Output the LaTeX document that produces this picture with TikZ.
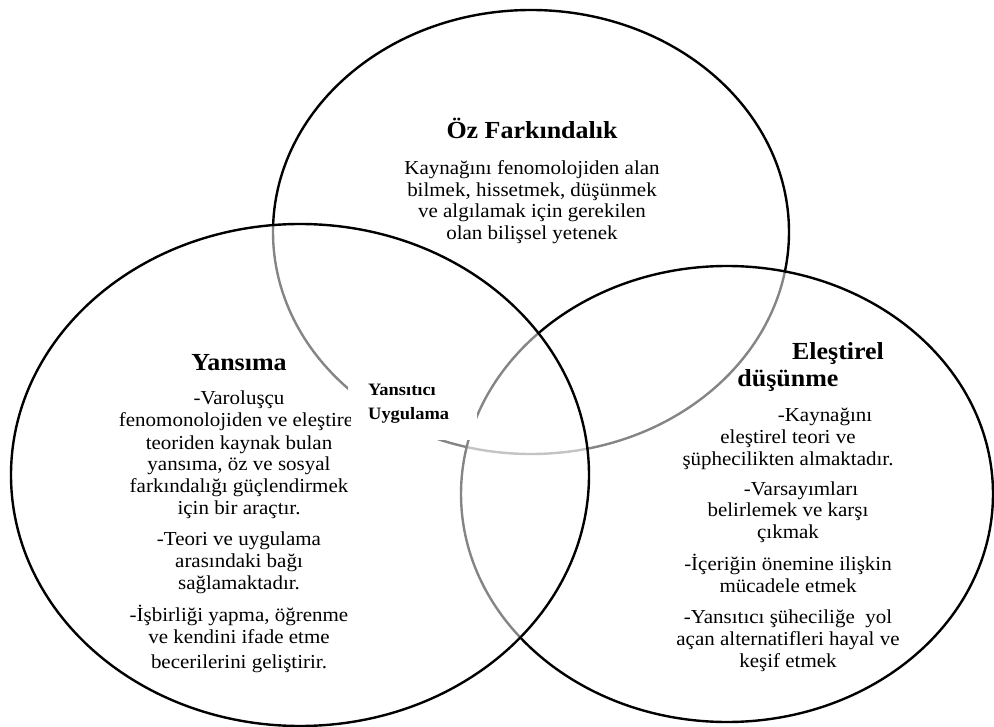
\documentclass[tikz,border=0pt]{standalone}
\usepackage{fontspec}
\setmainfont{Liberation Serif}[FakeStretch=1.06]
\begin{document}
\begin{tikzpicture}[x=1pt,y=-1pt,
  venn/.style={draw=black, line width=2.4pt, fill=white, fill opacity=0.52},
  ln/.style={anchor=mid, inner sep=0pt, font=\fontsize{19.8}{22}\selectfont},
  ttl/.style={anchor=mid, inner sep=0pt, font=\fontsize{24.5}{27}\selectfont\bfseries},
  sml/.style={anchor=mid west, inner sep=0pt, font=\fontsize{17.4}{20}\selectfont\bfseries}]
\useasboundingbox (0,0) rectangle (994,727);
% circles: top, right, left (drawing order gives the grey lines)
\path[venn] (531,232) ellipse [x radius=258pt, y radius=222pt];
\path[venn] (727,494) ellipse [x radius=266pt, y radius=228pt];
\path[venn] (300,475) ellipse [x radius=289pt, y radius=251pt];
% centre label box
\fill[white] (348,372) rectangle (477,440);
\node[sml] (yu1) at (368,393) {Yansıtıcı};
\node[sml] (yu2) at (368,417) {Uygulama};
% top circle
\node[ttl] (oztitle) at (532,136) {Öz Farkındalık};
\node[ln] (oz1) at (532,172) {Kaynağını fenomolojiden alan};
\node[ln] (oz2) at (532,194) {bilmek, hissetmek, düşünmek};
\node[ln] (oz3) at (532,215) {ve algılamak için gerekilen};
\node[ln] (oz4) at (532,237) {olan bilişsel yetenek};
% left circle
\begin{scope}
\clip (90,330) rectangle (350,700);
\node[ttl] (ytitle) at (239,368) {Yansıma};
\node[ln] (y1) at (239,402) {-Varoluşçu};
\node[ln] (y2) at (239,424) {fenomonolojiden ve eleştirel};
\node[ln] (y3) at (239,447) {teoriden kaynak bulan};
\node[ln] (y4) at (239,468) {yansıma, öz ve sosyal};
\node[ln] (y5) at (239,490) {farkındalığı güçlendirmek};
\node[ln] (y6) at (239,512) {için bir araçtır.};
\node[ln] (y7) at (239,543) {-Teori ve uygulama};
\node[ln] (y8) at (239,565) {arasındaki bağı};
\node[ln] (y9) at (239,587) {sağlamaktadır.};
\node[ln] (y10) at (239,619) {-İşbirliği yapma, öğrenme};
\node[ln] (y11) at (239,641) {ve kendini ifade etme};
\node[ln] (y12) at (239,666) {becerilerini geliştirir.};
\end{scope}
% right circle
\node[ttl] (etitle1) at (838,357) {Eleştirel};
\node[ttl] (etitle2) at (788,384) {düşünme};
\node[ln] (e1) at (825,419) {-Kaynağını};
\node[ln] (e2) at (788,441) {eleştirel teori ve};
\node[ln] (e3) at (788,463) {şüphecilikten almaktadır.};
\node[ln] (e4) at (801,493) {-Varsayımları};
\node[ln] (e5) at (788,514) {belirlemek ve karşı};
\node[ln] (e6) at (788,536) {çıkmak};
\node[ln] (e7) at (788,568) {-İçeriğin önemine ilişkin};
\node[ln] (e8) at (788,590) {mücadele etmek};
\node[ln] (e9) at (788,621) {-Yansıtıcı şüheciliğe\ \ yol};
\node[ln] (e10) at (788,643) {açan alternatifleri hayal ve};
\node[ln] (e11) at (788,665) {keşif etmek};
\end{tikzpicture}
\end{document}
